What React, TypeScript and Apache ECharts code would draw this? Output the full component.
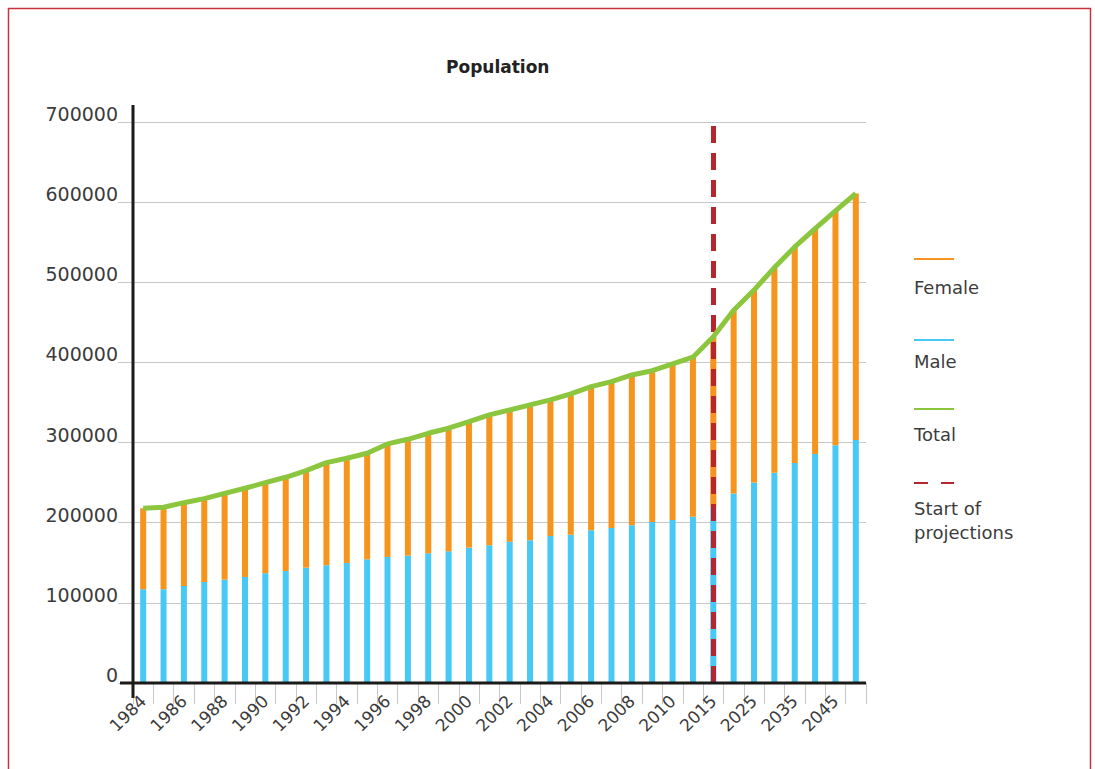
import React, { useEffect, useRef } from "react";
import * as echarts from "echarts";

const years: string[] = [
  "1984", "1985", "1986", "1987", "1988", "1989", "1990", "1991", "1992", "1993",
  "1994", "1995", "1996", "1997", "1998", "1999", "2000", "2001", "2002", "2003",
  "2004", "2005", "2006", "2007", "2008", "2009", "2010", "2011",
  "2015", "2020", "2025", "2030", "2035", "2040", "2045", "2050",
];

const male: number[] = [
  117000, 117000, 121000, 126000, 129000, 132300, 137000, 139800, 143900, 146900,
  149800, 154300, 157200, 158900, 161800, 164300, 168900, 171800, 176400, 178100,
  183500, 185100, 190500, 193400, 196800, 200900, 203400, 207500,
  220000, 236600, 250300, 262400, 274400, 285600, 296800, 303200,
];

const female: number[] = [
  101000, 102300, 104000, 104000, 107700, 110700, 113000, 116900, 121100, 128100,
  130600, 132400, 141100, 145200, 149800, 153600, 157200, 162700, 164300, 168900,
  169700, 175600, 179300, 182600, 187600, 188800, 194700, 199000,
  212000, 228400, 240000, 255900, 269700, 281300, 292400, 307600,
];

const yTicks: number[] = [0, 100000, 200000, 300000, 400000, 500000, 600000, 700000];
const projectionStart = "2015";
const legendItems: string[] = ["Female", "Male", "Total", "Start of\nprojections"];

const C_MALE = "#47c8f5";
const C_FEMALE = "#f7941d";
const C_TOTAL = "#8cc63f";
const C_PROJ = "#b5272d";
const TEXT = "#3c3c3c";
const FONT = "DejaVu Sans";

export default function App() {
  const ref = useRef<HTMLDivElement>(null);
  useEffect(() => {
    if (!ref.current) return;
    const chart = echarts.init(ref.current, undefined, { renderer: "svg" });
    const total = male.map((m, i) => m + female[i]);
    const gl = 133, gt = 122, gw = 733, gh = 561;
    const legendX = 914;
    const legendColors = [C_FEMALE, C_MALE, C_TOTAL, C_PROJ];
    const legendLineY = [259, 340, 409, 483];
    const legendTextY = [287, 361, 434, 520];
    const legendGraphics: any[] = [];
    legendItems.forEach((name, i) => {
      if (i < 3) {
        legendGraphics.push({
          type: "line",
          z: 100,
          shape: { x1: legendX, y1: legendLineY[i], x2: legendX + 40, y2: legendLineY[i] },
          style: { stroke: legendColors[i], lineWidth: 2 },
        });
      } else {
        legendGraphics.push({
          type: "line",
          z: 100,
          shape: { x1: legendX, y1: legendLineY[i], x2: legendX + 14, y2: legendLineY[i] },
          style: { stroke: legendColors[i], lineWidth: 2 },
        });
        legendGraphics.push({
          type: "line",
          z: 100,
          shape: { x1: legendX + 27, y1: legendLineY[i], x2: legendX + 40, y2: legendLineY[i] },
          style: { stroke: legendColors[i], lineWidth: 2 },
        });
      }
      legendGraphics.push({
        type: "text",
        z: 100,
        x: legendX,
        y: legendTextY[i],
        style: {
          text: name,
          fill: TEXT,
          font: `18px "${FONT}"`,
          lineHeight: 24,
          verticalAlign: "middle",
          align: "left",
        },
      });
    });

    chart.setOption({
      animation: false,
      backgroundColor: "#ffffff",
      title: {
        text: "Population",
        left: 441,
        top: 53,
        textStyle: { fontFamily: FONT, fontSize: 17, fontWeight: "bold", color: "#222" },
      },
      grid: { left: gl, top: gt, width: gw, height: gh, containLabel: false },
      xAxis: {
        type: "category",
        data: years,
        boundaryGap: true,
        axisLine: { show: false },
        axisTick: { show: true, interval: 0, length: 21, lineStyle: { color: "#c8c8c8", width: 1 } },
        axisLabel: {
          interval: 1,
          rotate: 45,
          margin: 15,
          fontFamily: FONT,
          fontSize: 17,
          color: TEXT,
        },
        splitLine: { show: false },
      },
      yAxis: {
        type: "value",
        min: yTicks[0],
        max: yTicks[yTicks.length - 1],
        interval: yTicks[1] - yTicks[0],
        axisLine: { show: false },
        axisTick: { show: true, length: 15, lineStyle: { color: "#c8c8c8", width: 1 } },
        axisLabel: {
          margin: 15,
          fontFamily: FONT,
          fontSize: 19,
          color: TEXT,
          verticalAlign: "bottom",
          lineHeight: 16,
          formatter: (v: number) => String(v),
        },
        splitLine: { show: true, lineStyle: { color: "#c8c8c8", width: 1 } },
      },
      series: [
        {
          name: "Male",
          type: "bar",
          stack: "pop",
          data: male,
          barWidth: 6,
          itemStyle: { color: C_MALE },
        },
        {
          name: "Female",
          type: "bar",
          stack: "pop",
          data: female,
          barWidth: 6,
          itemStyle: { color: C_FEMALE },
          markLine: {
            silent: true,
            symbol: ["none", "none"],
            label: { show: false },
            lineStyle: { color: C_PROJ, width: 5, type: [17, 10] },
            data: [{ xAxis: projectionStart }],
          },
        },
        {
          name: "Total",
          type: "line",
          data: total,
          z: 10,
          showSymbol: false,
          symbol: "none",
          lineStyle: { color: C_TOTAL, width: 5 },
          itemStyle: { color: C_TOTAL },
        },
      ],
      graphic: [
        {
          type: "rect",
          z: 100,
          shape: { x: 8.5, y: 8.5, width: 1082, height: 800 },
          style: { fill: "none", stroke: "#c8323c", lineWidth: 1.5 },
        },
        {
          type: "line",
          z: 100,
          shape: { x1: gl, y1: 105, x2: gl, y2: 698 },
          style: { stroke: "#1a1a1a", lineWidth: 3 },
        },
        {
          type: "line",
          z: 100,
          shape: { x1: 120, y1: gt + gh, x2: gl + gw, y2: gt + gh },
          style: { stroke: "#1a1a1a", lineWidth: 3 },
        },
        ...legendGraphics,
      ],
    });
    return () => chart.dispose();
  }, []);
  return (
    <div
      ref={ref}
      style={{ position: "fixed", left: 0, top: 0, width: 1095, height: 769, background: "#fff" }}
    />
  );
}
